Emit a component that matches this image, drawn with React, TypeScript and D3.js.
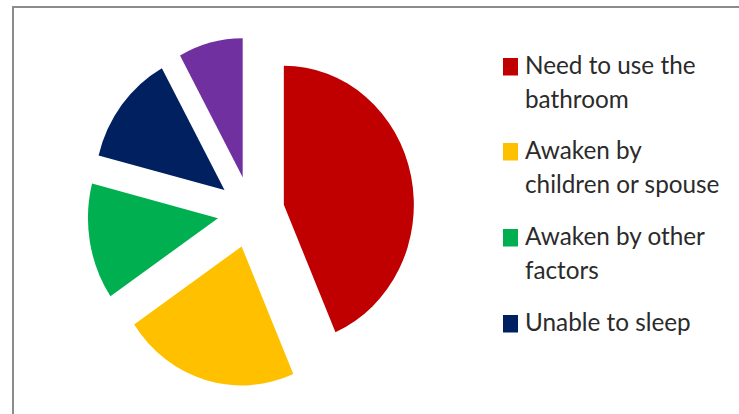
import React from "react";
import * as d3 from "d3";

const categories = [
  "Need to use the bathroom",
  "Awaken by children or spouse",
  "Awaken by other factors",
  "Unable to sleep",
  "Other",
];
const values = [43.5, 22, 13.5, 13, 8];
const colors = ["#C00000", "#FFC000", "#00B050", "#002060", "#7030A0"];
const legendLines = [
  ["Need to use the", "bathroom"],
  ["Awaken by", "children or spouse"],
  ["Awaken by other", "factors"],
  ["Unable to sleep"],
];

const W = 739;
const H = 414;

export default function App() {
  const R = 139;
  const cx = 251;
  const cy = 212;
  const sx = 130 / 139;
  const explode = 0.258 * R;

  const pie = d3
    .pie<number>()
    .sort(null)
    .value((d) => d)
    .startAngle(0)
    .endAngle(2 * Math.PI);
  const arcs = pie(values);
  const arc = d3.arc<d3.PieArcDatum<number>>().innerRadius(0).outerRadius(R);

  const baselines = [74, 159, 245, 331];
  const lineGap = 34;

  return (
    <div style={{ position: "absolute", left: 0, top: 0, width: W, height: H }}>
      <svg width={W} height={H} style={{ display: "block", background: "#fff" }}>
        <rect x={0} y={0} width={W} height={H} fill="#fff" />
        <line x1={13} y1={7} x2={W} y2={7} stroke="#8c8c8c" strokeWidth={2} />
        <line x1={13} y1={6} x2={13} y2={H} stroke="#8c8c8c" strokeWidth={2} />
        <g transform={`translate(${cx},${cy}) scale(${sx},1)`}>
          {arcs.map((a, i) => {
            const mid = (a.startAngle + a.endAngle) / 2;
            const dx = Math.sin(mid) * explode;
            const dy = -Math.cos(mid) * explode;
            return (
              <path
                key={categories[i]}
                d={arc(a) || ""}
                transform={`translate(${dx},${dy})`}
                fill={colors[i]}
              />
            );
          })}
        </g>
        <g fontFamily="Lato, 'Open Sans', sans-serif" fontSize={24.3} fill="#2b2b2b">
          {legendLines.map((lines, i) => (
            <g key={i}>
              <rect x={503} y={baselines[i] - 16} width={15} height={17.5} fill={colors[i]} />
              {lines.map((t, j) => (
                <text key={j} x={525} y={baselines[i] + j * lineGap}>
                  {t}
                </text>
              ))}
            </g>
          ))}
        </g>
      </svg>
    </div>
  );
}
